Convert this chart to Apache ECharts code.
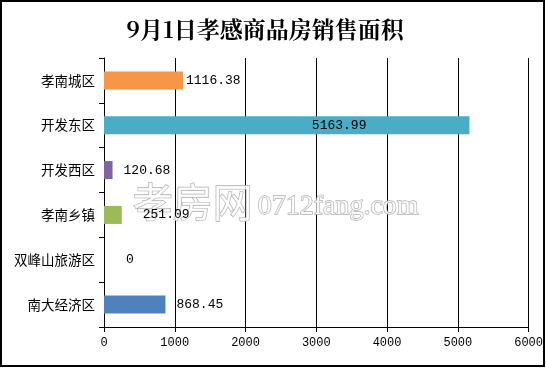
<!DOCTYPE html>
<html><head><meta charset="utf-8">
<script src="https://cdn.jsdelivr.net/npm/echarts@6/dist/echarts.min.js"></script>
<style>html,body{margin:0;padding:0;background:#fff}#c{width:546px;height:369px}</style>
</head><body><div id="c"></div>
<script>
var title = '9月1日孝感商品房销售面积';
var categories = ['孝南城区','开发东区','开发西区','孝南乡镇','双峰山旅游区','南大经济区'];
var values = [1116.38, 5163.99, 120.68, 251.09, 0, 868.45];
var colors = ['#F79646','#4BACC6','#8064A2','#9BBB59','#4F81BD','#4F81BD'];
var xTicks = [0,1000,2000,3000,4000,5000,6000];

var labelCfg = [
  {position:'right', distance:3},
  {position:'insideRight', distance:103},
  {position:'right', distance:11},
  {position:'right', distance:21},
  {position:'right', distance:22},
  {position:'right', distance:11}
];
var monoFont = '"Liberation Mono", "DejaVu Sans Mono", monospace';
var data = values.map(function(v,i){
  return {value:v, itemStyle:{color:colors[i]},
    label:{show:true, position:labelCfg[i].position, distance:labelCfg[i].distance,
      color:'#000', fontSize:13, fontFamily:monoFont,
      formatter:function(p){return String(p.value);}}};
});
var chart = echarts.init(document.getElementById('c'), null, {renderer:'canvas'});
chart.setOption({
  animation:false,
  backgroundColor:'#fff',
  title:{text:title, left:260, top:13, textAlign:'center',
    textStyle:{fontSize:23, fontWeight:'bold', color:'#000', fontFamily:'"Noto Serif CJK SC","Noto Sans CJK SC",serif'}},
  grid:{left:104, right:16, top:58, bottom:42, containLabel:false},
  xAxis:{type:'value', min:xTicks[0], max:xTicks[xTicks.length-1], interval:1000,
    axisLine:{show:true, lineStyle:{color:'#000', width:1}},
    axisTick:{show:true, length:5, lineStyle:{color:'#000'}},
    axisLabel:{color:'#000', fontSize:12, fontFamily:monoFont, margin:10,
      formatter:function(v){return String(v);}},
    splitLine:{show:true, lineStyle:{color:'#000', width:1}}},
  yAxis:{type:'category', data:categories, inverse:true,
    axisLine:{show:true, lineStyle:{color:'#000', width:1}},
    axisTick:{show:true, length:5, lineStyle:{color:'#000'}},
    axisLabel:{color:'#000', fontSize:13.5, margin:9, fontFamily:'"Noto Sans CJK SC", sans-serif'}},
  graphic:[
    {type:'rect', shape:{x:1, y:1, width:543, height:365}, style:{fill:'none', stroke:'#000', lineWidth:2}, z:100},
    {type:'text', left:132, top:181, z:1, style:{text:'孝房网', fontSize:40, fontFamily:'"Noto Sans CJK SC", sans-serif', fill:'rgba(255,255,255,0.85)', stroke:'#b0b0b0', lineWidth:1.3}},
    {type:'text', left:257, top:192, z:1, style:{text:'0712fang.com', fontSize:28, fontFamily:'"Liberation Serif", serif', fill:'rgba(255,255,255,0.85)', stroke:'#b0b0b0', lineWidth:1.3}}
  ],
  series:[{type:'bar', data:data, barWidth:18, z:2}]
});
</script></body></html>
